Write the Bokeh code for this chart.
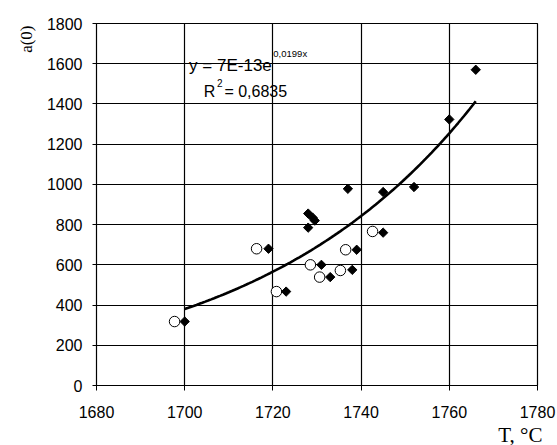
import numpy as np
from bokeh.plotting import figure
from bokeh.models import Range1d, Label, FixedTicker, Title
from bokeh.embed import file_html
from bokeh.resources import INLINE

# Filled diamonds (measured a(0) vs T)
diamond_T = [1700, 1719, 1723, 1728, 1729, 1729.5, 1728, 1731, 1733, 1738, 1739,
             1737, 1745, 1745, 1752, 1760, 1766]
diamond_a = [318, 680, 467, 855, 835, 820, 785, 600, 539, 575, 675,
             978, 760, 962, 987, 1323, 1570]
# Open circles
circle_T = [1697.7, 1716.3, 1720.8, 1728.5, 1730.6, 1735.3, 1736.5, 1742.6]
circle_a = [318, 680, 467, 600, 539, 572, 675, 766]

# Exponential trend line coefficients (y = A*exp(B*x)), range of the fit
TREND_A = 7.72e-13
TREND_B = 0.0199
TREND_T = [1700, 1766]

x_ticks = [1680, 1700, 1720, 1740, 1760, 1780]
y_ticks = [0, 200, 400, 600, 800, 1000, 1200, 1400, 1600, 1800]

p = figure(frame_width=441, frame_height=362, output_backend="svg", toolbar_location=None,
           x_range=Range1d(1680, 1780), y_range=Range1d(0, 1800),
           min_border_left=96, min_border_right=20, min_border_top=23,
           min_border_bottom=50)
p.background_fill_color = "white"
p.border_fill_color = "white"
p.outline_line_color = "black"
p.outline_line_width = 1.2

for ax in (p.xaxis[0], p.yaxis[0]):
    ax.axis_line_color = "black"
    ax.major_tick_line_color = "black"
    ax.minor_tick_line_color = None
    ax.major_tick_in = 0
    ax.major_label_text_font = "Liberation Sans"
    ax.major_label_text_font_size = "16px"
    ax.major_label_text_color = "black"

p.xaxis.ticker = FixedTicker(ticks=x_ticks)
p.yaxis.ticker = FixedTicker(ticks=y_ticks)
p.xaxis.major_tick_out = 5
p.yaxis.major_tick_out = 4
p.xaxis.major_label_standoff = 15
p.yaxis.major_label_standoff = 10

p.xgrid.ticker = FixedTicker(ticks=x_ticks)
p.ygrid.ticker = FixedTicker(ticks=y_ticks)
for g in (p.xgrid[0], p.ygrid[0]):
    g.grid_line_color = "black"
    g.grid_line_width = 1.2
    g.grid_line_alpha = 1.0

# Axis titles as side titles
p.add_layout(Title(text="a(0)", align="right", offset=2, standoff=15,
                   text_font="Liberation Serif", text_font_size="17px",
                   text_font_style="normal", text_color="black"), "left")
p.add_layout(Title(text="T, °C", align="right", offset=-5, standoff=0,
                   text_font="Liberation Serif", text_font_size="21px",
                   text_font_style="normal", text_color="black"), "below")

# Trend line
tx = np.linspace(TREND_T[0], TREND_T[1], 100)
ty = TREND_A * np.exp(TREND_B * tx)
p.line(tx, ty, line_color="black", line_width=2.6)

# Points
p.scatter(circle_T, circle_a, marker="circle", size=10.5, fill_color="white",
          line_color="black", line_width=1)
p.scatter(diamond_T, diamond_a, marker="square", angle=np.pi / 4, size=6.6,
          fill_color="black", line_color="black")

# Equation texts
p.add_layout(Label(x=1701, y=1589, text="y = 7E-13e", text_font="Liberation Sans",
                   text_font_size="17px", text_color="black", text_baseline="alphabetic"))
p.add_layout(Label(x=1720.1, y=1651, text="0,0199x", text_font="Liberation Sans",
                   text_font_size="9.5px", text_color="black", text_baseline="alphabetic"))
p.add_layout(Label(x=1704.3, y=1462, text="R", text_font="Liberation Sans",
                   text_font_size="16px", text_color="black", text_baseline="alphabetic"))
p.add_layout(Label(x=1707.3, y=1502, text="2", text_font="Liberation Sans",
                   text_font_size="10px", text_color="black", text_baseline="alphabetic"))
p.add_layout(Label(x=1709.0, y=1462, text="= 0,6835", text_font="Liberation Sans",
                   text_font_size="16px", text_color="black", text_baseline="alphabetic"))

open("out.html", "w").write(file_html(p, INLINE))
